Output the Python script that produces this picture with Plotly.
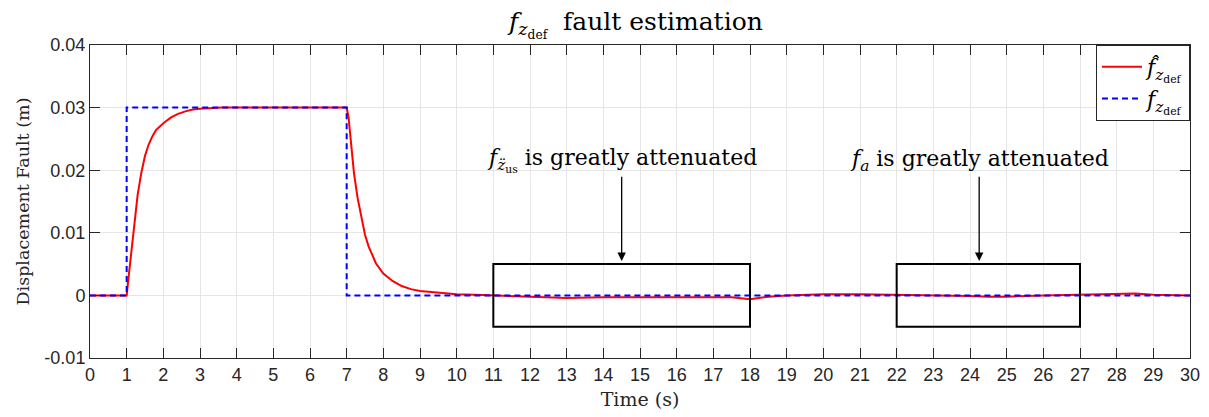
import plotly.graph_objects as go

# Reference fault signal (step from 1 s to 7 s)
time_ref = [0, 1, 1, 7, 7, 30]
fault_ref = [0, 0, 0.03, 0.03, 0, 0]

# Estimated fault signal
time_hat = [
    0, 1, 1.05, 1.1, 1.15, 1.2, 1.3, 1.4, 1.5, 1.6,
    1.7, 1.8, 1.9, 2.0, 2.2, 2.4, 2.6, 2.8, 3.0, 3.3,
    3.6, 4, 5, 6, 6.5, 6.7, 6.9, 7.0, 7.05, 7.1,
    7.2, 7.3, 7.4, 7.5, 7.6, 7.7, 7.8, 8.0, 8.25, 8.5,
    8.75, 9.0, 9.5, 10, 10.5, 11, 12, 13, 14, 15,
    16, 17, 17.5, 18, 18.5, 19, 19.5, 20, 21, 22,
    23, 24, 24.5, 25, 26, 27, 28, 28.5, 29, 30,
]
fault_hat = [
    0, 0, 0.0028, 0.0054, 0.0085, 0.0113, 0.0161, 0.0196, 0.0223, 0.0241,
    0.0254, 0.0264, 0.0270, 0.0275, 0.0284, 0.0290, 0.0294, 0.0297, 0.0298, 0.0299,
    0.0300, 0.0300, 0.0300, 0.0300, 0.0301, 0.0301, 0.0300, 0.0300, 0.0285, 0.0255,
    0.0195, 0.0155, 0.0123, 0.0097, 0.0078, 0.0063, 0.0051, 0.0035, 0.0023, 0.0015,
    0.0010, 0.0007, 0.0004, 0.0002, 0.0001, 0.0, -0.0002, -0.0004, -0.0003, -0.0003,
    -0.0003, -0.0002, -0.0003, -0.0006, -0.0002, 0.0, 0.0001, 0.0002, 0.0002, 0.0001,
    0.0001, -0.0001, -0.0002, -0.0002, 0.0, 0.0001, 0.0003, 0.0003, 0.0001, 0.0,
]

x_ticks = list(range(0, 31))
y_ticks = [-0.01, 0, 0.01, 0.02, 0.03, 0.04]
y_tick_labels = ["-0.01", "0", "0.01", "0.02", "0.03", "0.04"]

# Highlighted windows: (start, end, low, high)
windows = [(11, 18, -0.005, 0.005), (22, 27, -0.005, 0.005)]
notes = [
    ("<i>f</i><sub><i>z̈</i><sub>us</sub></sub> is greatly attenuated", 14.5, 14.5),
    ("<i>f<sub>a</sub></i> is greatly attenuated", 24.25, 24.25),
]

SERIF = "DejaVu Serif, serif"
SANS = "Liberation Sans, Arial, sans-serif"
AX = "#262626"

fig = go.Figure()
fig.add_trace(go.Scatter(
    x=time_hat, y=fault_hat, mode="lines",
    line=dict(color="#ff0000", width=2),
    name="<i>f̂</i><sub><i>z</i><sub>def</sub></sub>",
))
fig.add_trace(go.Scatter(
    x=time_ref, y=fault_ref, mode="lines",
    line=dict(color="#0000ff", width=2, dash="6px,4px"),
    name="<i>f</i><sub><i>z</i><sub>def</sub></sub>",
))

for x0, x1, y0, y1 in windows:
    fig.add_shape(type="rect", x0=x0, x1=x1, y0=y0, y1=y1,
                  line=dict(color="black", width=2), fillcolor="rgba(0,0,0,0)")

for text, tx, ax_x in notes:
    fig.add_annotation(x=tx, y=0.0216, text=text, showarrow=False,
                       font=dict(family=SERIF, size=22, color="black"))
    fig.add_annotation(x=ax_x, y=0.0055, ax=ax_x, ay=0.0192,
                       xref="x", yref="y", axref="x", ayref="y",
                       text="", showarrow=True, arrowhead=2, arrowsize=1.3,
                       arrowwidth=1.3, arrowcolor="black")

fig.update_layout(
    width=1209, height=417,
    margin=dict(l=90, r=19, t=45, b=59),
    paper_bgcolor="white", plot_bgcolor="white",
    title=dict(text="<i>f</i><sub><i>z</i><sub>def</sub></sub>  fault estimation",
               x=0.526, xanchor="center", y=0.95, yanchor="middle",
               font=dict(family=SERIF, size=25, color="black")),
    legend=dict(x=1, y=1, xanchor="right", yanchor="top",
                bgcolor="white", bordercolor=AX, borderwidth=1,
                font=dict(family=SERIF, size=22, color="black"),
                tracegroupgap=0, itemwidth=40),
    showlegend=True,
)
fig.update_xaxes(
    range=[0, 30], tickvals=x_ticks, ticks="inside", ticklen=10, tickcolor=AX,
    showline=True, linecolor=AX, linewidth=1, mirror="ticks",
    showgrid=True, gridcolor="#e6e6e6", gridwidth=1, zeroline=False,
    tickfont=dict(family=SANS, size=18, color=AX), automargin=False,
    title=dict(text="Time (s)", font=dict(family=SERIF, size=19, color=AX), standoff=9),
)
fig.update_yaxes(
    range=[-0.01, 0.04], tickvals=y_ticks, ticktext=y_tick_labels,
    ticks="inside", ticklen=10, tickcolor=AX,
    showline=True, linecolor=AX, linewidth=1, mirror="ticks",
    showgrid=True, gridcolor="#e6e6e6", gridwidth=1, zeroline=False,
    tickfont=dict(family=SANS, size=18, color=AX), automargin=False,
    title=dict(text="Displacement Fault (m)", font=dict(family=SERIF, size=17.5, color=AX), standoff=10),
)

fig.write_html("out.html")
